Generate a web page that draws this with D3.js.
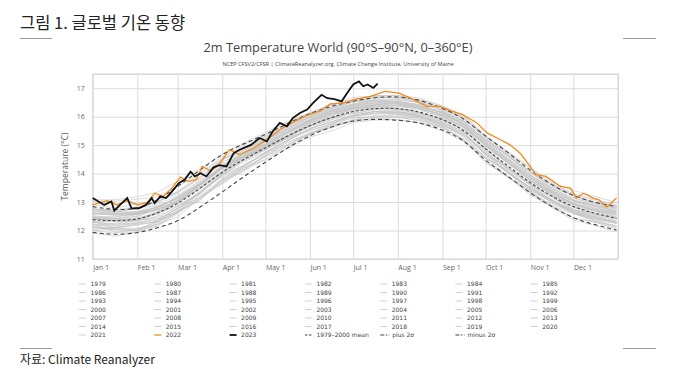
<!DOCTYPE html>
<html>
<head>
<meta charset="utf-8">
<title>2m Temperature World</title>
<script src="https://cdn.jsdelivr.net/npm/d3@7"></script>
<style>
  body { margin: 0; background: #fff; }
  svg { display: block; }
</style>
</head>
<body>
<script>
// x axis: day of year where each month starts
var monthStarts = [0, 31, 59, 90, 120, 151, 181, 212, 243, 273, 304, 334];
var monthLabels = ["Jan 1", "Feb 1", "Mar 1", "Apr 1", "May 1", "Jun 1", "Jul 1", "Aug 1", "Sep 1", "Oct 1", "Nov 1", "Dec 1"];
var yTicks = [11, 12, 13, 14, 15, 16, 17];

// semi-monthly sample days used by the climatology and the gray years
var sampleDays = [0, 15, 31, 45, 59, 74, 90, 105, 120, 135, 151, 166, 181, 196, 212, 227, 243, 258, 273, 288, 304, 319, 334, 349, 364];

var meanValues   = [12.38, 12.33, 12.38, 12.60, 12.93, 13.45, 14.07, 14.50, 14.90, 15.32, 15.70, 15.98, 16.20, 16.30, 16.30, 16.18, 15.92, 15.55, 14.85, 14.30, 13.66, 13.19, 12.82, 12.60, 12.43];
var plus2Values  = [12.84, 12.72, 12.75, 13.05, 13.55, 14.10, 14.70, 15.05, 15.37, 15.75, 16.12, 16.38, 16.55, 16.68, 16.72, 16.60, 16.30, 15.95, 15.30, 14.78, 14.10, 13.60, 13.20, 12.98, 12.84];
var minus2Values = [11.93, 11.85, 11.90, 12.10, 12.30, 12.80, 13.35, 13.90, 14.40, 14.90, 15.35, 15.65, 15.88, 15.92, 15.88, 15.80, 15.55, 15.20, 14.43, 13.95, 13.30, 12.84, 12.42, 12.20, 12.02];

var grayYears = [1979, 1980, 1981, 1982, 1983, 1984, 1985, 1986, 1987, 1988, 1989, 1990, 1991, 1992, 1993, 1994, 1995, 1996, 1997, 1998, 1999, 2000,
                 2001, 2002, 2003, 2004, 2005, 2006, 2007, 2008, 2009, 2010, 2011, 2012, 2013, 2014, 2015, 2016, 2017, 2018, 2019, 2020, 2021];
// departures from the 1979-2000 mean at the sample days, in hundredths of a degree
var grayAnomalies = [
  [-33,-23,-38,-27,-15,-30,-42,-23,-18,-30,-27,-21,-24,-30,-23,-18,-27,-38,-30,-23,-33,-27,-18,-30,-38],
  [-8,-23,-15,-30,-23,-12,-18,-27,-15,-9,-18,-23,-15,-12,-21,-18,-15,-8,-23,-27,-15,-12,-23,-18,-15],
  [-23,-8,0,-18,-27,-15,-8,-23,-15,-18,-12,-8,-15,-21,-18,-12,-23,-15,-8,-18,-23,-15,-8,-12,-18],
  [-15,-38,-45,-33,-23,-42,-30,-38,-27,-33,-30,-38,-33,-27,-30,-23,-33,-38,-27,-18,-23,-15,-8,-12,-3],
  [38,30,42,27,15,23,12,8,0,-8,-12,-15,-18,-12,-15,-23,-18,-27,-30,-23,-15,-18,-23,-15,-12],
  [-23,-30,-38,-45,-33,-27,-38,-30,-42,-33,-30,-27,-33,-38,-30,-33,-27,-38,-45,-42,-33,-38,-45,-42,-48],
  [-45,-53,-42,-38,-45,-33,-42,-38,-30,-38,-33,-30,-38,-33,-42,-38,-30,-33,-38,-42,-30,-33,-38,-30,-27],
  [-33,-23,-30,-38,-27,-33,-23,-30,-27,-23,-30,-27,-23,-18,-23,-27,-18,-15,-12,-8,-3,0,-8,-3,0],
  [0,8,-3,-12,-8,-15,-8,0,-5,-8,0,-3,3,8,0,5,8,12,15,18,12,8,15,12,18],
  [23,27,18,12,8,15,8,3,0,-3,8,0,-8,-12,-8,-15,-12,-8,-18,-23,-15,-12,-18,-23,-27],
  [-38,-42,-33,-30,-27,-23,-30,-18,-23,-15,-18,-23,-15,-18,-12,-15,-23,-18,-15,-23,-27,-18,-15,-23,-18],
  [-8,0,8,-3,8,15,12,3,8,0,-3,0,8,3,0,-5,3,8,0,-8,3,12,8,0,5],
  [8,0,-8,3,-5,-12,0,8,3,-5,0,-3,-8,-5,-12,-15,-18,-23,-15,-12,-18,-23,-15,-12,-18],
  [-15,-23,-18,-27,-30,-38,-33,-42,-38,-45,-42,-48,-40,-42,-40,-40,-42,-42,-45,-38,-42,-33,-38,-30,-33],
  [-38,-27,-33,-42,-30,-38,-27,-33,-30,-23,-27,-33,-30,-27,-33,-30,-27,-23,-30,-38,-27,-33,-23,-27,-30],
  [-23,-30,-38,-23,-15,-18,-12,-23,-18,-15,-12,-18,-15,-12,-15,-18,-8,-12,-18,-8,-3,-8,0,-5,-8],
  [8,15,23,12,8,0,-3,8,3,0,5,8,3,0,-3,-8,-3,0,-8,-12,-8,-15,-12,-18,-15],
  [-27,-23,-18,-27,-15,-18,-12,-8,-15,-18,-12,-15,-18,-12,-15,-8,-12,-18,-15,-23,-18,-12,-15,-18,-12],
  [-8,-12,-3,0,8,3,0,8,5,3,8,12,8,12,15,18,23,27,30,33,38,30,42,38,45],
  [53,45,57,48,42,53,45,38,42,33,38,30,33,27,23,18,23,15,12,8,12,8,0,8,3],
  [-8,-15,-12,-18,-8,-15,-8,0,-5,-8,-3,0,-8,-5,0,-3,-8,0,3,-5,-8,-12,-15,-8,-12],
  [-15,-18,-12,-23,-15,-8,-12,-5,-8,0,-5,-8,-3,0,-5,-8,0,5,-3,-8,-5,0,-8,-3,0],
  [0,5,2,8,5,10,12,8,5,10,8,12,10,8,5,10,12,8,15,12,10,15,12,10,15],
  [10,15,20,25,18,15,20,18,12,15,18,15,12,15,18,12,15,20,18,15,20,18,22,18,20],
  [25,20,18,15,12,10,15,12,18,15,12,15,18,20,15,12,15,18,20,22,18,20,15,18,22],
  [15,10,18,15,12,15,18,12,10,8,12,10,8,12,10,15,12,10,15,12,18,15,12,15,18],
  [22,25,20,18,22,15,18,20,22,18,20,22,18,20,22,25,20,22,25,20,22,18,25,22,20],
  [5,8,12,15,10,12,15,18,12,15,18,20,15,12,15,18,15,20,22,18,20,25,22,28,25],
  [30,35,25,22,20,18,15,20,15,12,15,18,12,10,8,12,10,8,5,10,8,5,10,8,5],
  [-5,-10,-12,-8,0,5,2,8,5,2,0,5,8,5,10,8,5,10,12,8,10,5,8,10,12],
  [10,8,12,15,10,12,15,10,12,15,18,20,22,25,22,20,25,28,22,25,28,30,25,28,30],
  [35,40,45,38,42,35,40,35,30,32,28,25,22,25,20,18,22,15,12,15,18,12,10,15,12],
  [5,0,-2,5,8,5,10,12,8,10,15,12,15,18,15,12,15,18,15,12,10,15,12,8,10],
  [5,8,2,5,10,15,12,18,20,22,25,22,25,28,25,22,25,28,30,25,28,22,20,25,22],
  [20,25,22,20,25,18,22,20,25,22,20,25,22,18,22,25,20,22,25,28,25,22,25,28,25],
  [20,22,25,20,22,18,22,25,28,25,28,30,25,28,30,32,28,30,32,35,30,28,32,35,30],
  [30,25,28,32,30,28,32,30,35,38,32,35,38,40,35,42,45,48,45,50,55,52,58,60,55],
  [70,75,80,75,80,70,62,58,55,50,45,42,40,45,42,38,40,42,38,35,40,38,42,35,38],
  [40,35,38,42,45,40,42,38,35,40,38,35,32,35,38,35,32,38,35,40,38,35,42,38,40],
  [30,28,25,22,25,28,30,32,28,25,30,28,32,30,28,32,30,28,32,35,30,28,32,30,35],
  [35,38,40,42,38,40,45,42,40,45,42,45,48,42,45,48,45,50,48,45,52,48,45,50,48],
  [65,70,72,58,62,55,52,50,48,45,42,45,40,42,45,40,38,42,45,40,42,45,48,45,42],
  [38,32,28,22,25,20,22,25,28,30,32,35,32,38,35,32,35,38,40,35,38,42,40,38,35]
];

var days2022   = [0, 10, 17, 24, 31, 38, 43, 49, 55, 61, 66, 72, 76, 82, 88, 95, 102, 112, 121, 130, 139, 149, 158, 165, 174, 183, 193, 203, 213, 223, 232, 241, 250, 257, 267, 274, 281, 290, 297, 304, 308, 315, 325, 332, 336, 341, 348, 352, 357, 361, 364];
var values2022 = [12.90, 13.05, 12.90, 13.05, 12.90, 12.98, 13.31, 13.20, 13.49, 13.88, 13.73, 13.79, 14.25, 14.10, 14.33, 14.84, 14.67, 14.90, 15.19, 15.54, 15.80, 16.05, 16.20, 16.45, 16.48, 16.62, 16.71, 16.89, 16.83, 16.60, 16.36, 16.36, 16.19, 16.07, 15.78, 15.43, 15.25, 15.01, 14.72, 14.25, 13.96, 13.90, 13.55, 13.49, 13.14, 13.31, 13.14, 13.07, 12.82, 13.00, 13.14];

var days2023   = [0, 4, 8, 13, 15, 19, 24, 27, 32, 37, 41, 43, 47, 51, 55, 60, 64, 68, 71, 75, 79, 84, 88, 93, 98, 102, 110, 116, 121, 125, 130, 135, 139, 144, 149, 153, 159, 163, 168, 173, 176, 181, 185, 188, 191, 195, 198];
var values2023 = [13.14, 13.02, 12.90, 13.02, 12.70, 12.90, 13.14, 12.78, 12.78, 12.90, 13.14, 12.96, 13.20, 13.14, 13.37, 13.67, 13.79, 14.07, 13.90, 14.01, 13.90, 14.22, 14.30, 14.25, 14.72, 14.84, 15.01, 15.25, 15.13, 15.48, 15.78, 15.66, 15.95, 16.13, 16.25, 16.48, 16.77, 16.65, 16.62, 16.54, 16.77, 17.13, 17.24, 17.07, 17.13, 17.01, 17.16];

(function() {
var w = 673, h = 369;
var pL = 92.7, pR = 618, pT = 74, pB = 259;

var svg = d3.select("body").append("svg").attr("width", w).attr("height", h);

var x = d3.scaleLinear().domain([0, 365]).range([pL, pR]);
var y = d3.scaleLinear().domain([11, 17.5]).range([pB, pT]);

// page heading and the short rules around the figure
svg.append("text").attr("x", 20).attr("y", 29)
   .style("font-family", "'Noto Sans CJK KR', sans-serif").style("font-size", "16.5px").style("fill", "#222")
   .text("그림 1. 글로벌 기온 동향");
[[20, 52, 38.5], [623, 656, 38.5], [20, 52, 348.5], [623, 656, 348.5]].forEach(function(r) {
    svg.append("line").attr("x1", r[0]).attr("x2", r[1]).attr("y1", r[2]).attr("y2", r[2])
       .style("stroke", "#999").style("stroke-width", 1);
});
svg.append("text").attr("x", 20).attr("y", 364)
   .style("font-family", "'Noto Sans CJK KR', sans-serif").style("font-size", "12px").style("fill", "#222")
   .text("자료: Climate Reanalyzer");

// chart titles
svg.append("text").attr("x", 338).attr("y", 52).attr("text-anchor", "middle")
   .style("font-family", "'Open Sans', sans-serif").style("font-size", "12.8px").style("fill", "#444")
   .text("2m Temperature World (90°S–90°N, 0–360°E)");
svg.append("text").attr("x", 338).attr("y", 66).attr("text-anchor", "middle")
   .style("font-family", "'Open Sans', sans-serif").style("font-size", "5.6px").style("fill", "#444")
   .text("NCEP CFSV2/CFSR | ClimateReanalyzer.org, Climate Change Institute, University of Maine");

// grid
var gx = svg.append("g").attr("transform", "translate(0," + pT + ")")
    .call(d3.axisBottom(x).tickValues(monthStarts.concat([365])).tickSize(pB - pT).tickFormat(""));
var gy = svg.append("g").attr("transform", "translate(" + pL + ",0)")
    .call(d3.axisRight(y).tickValues(yTicks.concat([17.5])).tickSize(pR - pL).tickFormat(""));
[gx, gy].forEach(function(g) {
    g.select(".domain").remove();
    g.selectAll("line").style("stroke", "#dcdcdc").style("stroke-width", 1);
});
svg.append("rect").attr("x", pL).attr("y", pT).attr("width", pR - pL).attr("height", pB - pT)
   .style("fill", "none").style("stroke", "#d4d4d4").style("stroke-width", 1);

// axis labels
var xa = svg.append("g").attr("transform", "translate(0," + pB + ")")
    .call(d3.axisBottom(x).tickValues(monthStarts).tickSize(0).tickPadding(6).tickFormat(function(d, i) { return monthLabels[i]; }));
xa.select(".domain").remove();
xa.selectAll("text").attr("text-anchor", "start").attr("dx", 0)
  .style("font-family", "'Open Sans', sans-serif").style("font-size", "7px").style("fill", "#666");

var ya = svg.append("g").attr("transform", "translate(" + pL + ",0)")
    .call(d3.axisLeft(y).tickValues(yTicks).tickSize(0).tickPadding(8).tickFormat(d3.format("d")));
ya.select(".domain").remove();
ya.selectAll("text").style("font-family", "'Open Sans', sans-serif").style("font-size", "7px").style("fill", "#666");

svg.append("text").attr("transform", "translate(68," + ((pT + pB) / 2) + ") rotate(-90)")
   .attr("text-anchor", "middle")
   .style("font-family", "'Open Sans', sans-serif").style("font-size", "8.5px").style("fill", "#555")
   .text("Temperature (°C)");

// series
var plot = svg.append("g");
var line = d3.line().x(function(d) { return x(d[0]); }).y(function(d) { return y(d[1]); });
var smooth = d3.line().curve(d3.curveBasis).x(function(d) { return x(d[0]); }).y(function(d) { return y(d[1]); });

grayAnomalies.forEach(function(anoms) {
    var pts = anoms.map(function(a, i) { return [sampleDays[i], meanValues[i] + a / 100]; });
    plot.append("path").attr("d", line(pts))
        .style("fill", "none").style("stroke", "#c2c2c2").style("stroke-width", 0.7).style("opacity", 0.85);
});

function pairs(ds, vs) { return ds.map(function(d, i) { return [d, vs[i]]; }); }

plot.append("path").attr("d", smooth(pairs(sampleDays, plus2Values)))
    .style("fill", "none").style("stroke", "#444").style("stroke-width", 1.1).style("stroke-dasharray", "4,3");
plot.append("path").attr("d", smooth(pairs(sampleDays, minus2Values)))
    .style("fill", "none").style("stroke", "#444").style("stroke-width", 1.1).style("stroke-dasharray", "4,3");
plot.append("path").attr("d", smooth(pairs(sampleDays, meanValues)))
    .style("fill", "none").style("stroke", "#444").style("stroke-width", 1.1).style("stroke-dasharray", "3,2");

plot.append("path").attr("d", line(pairs(days2022, values2022)))
    .style("fill", "none").style("stroke", "#f28a1e").style("stroke-width", 1.3);
plot.append("path").attr("d", line(pairs(days2023, values2023)))
    .style("fill", "none").style("stroke", "#111").style("stroke-width", 1.8);

// legend, 7 columns filled row by row
var legendItems = grayYears.map(function(yr) { return { label: String(yr), kind: "gray" }; })
    .concat([{ label: "2022", kind: "y2022" }, { label: "2023", kind: "y2023" },
             { label: "1979–2000 mean", kind: "mean" }, { label: "plus 2σ", kind: "sigma" }, { label: "minus 2σ", kind: "sigma" }]);

var lg = svg.append("g");
legendItems.forEach(function(item, i) {
    var col = i % 7, row = Math.floor(i / 7);
    var lx = 79 + col * 75.3, ly = 284 + row * 8.5;
    var s = lg.append("line").attr("x1", lx).attr("x2", lx + 7).attr("y1", ly).attr("y2", ly).style("stroke-width", 1);
    if (item.kind === "gray") s.style("stroke", "#c4c4c4").style("stroke-width", 0.8);
    if (item.kind === "y2022") s.style("stroke", "#f28a1e").style("stroke-width", 1.3);
    if (item.kind === "y2023") s.style("stroke", "#111").style("stroke-width", 1.8);
    if (item.kind === "mean") s.style("stroke", "#444").style("stroke-dasharray", "2.5,1.5").style("stroke-width", 1.1);
    if (item.kind === "sigma") s.attr("x2", lx + 9).style("stroke", "#444").style("stroke-dasharray", "4,1.5,1.5,1.5").style("stroke-width", 1.1);
    lg.append("text").attr("x", lx + (item.kind === "sigma" ? 12 : 11.5)).attr("y", ly + 2.1)
      .style("font-family", "'DejaVu Sans', sans-serif").style("font-size", "6px").style("fill", "#444")
      .text(item.label);
});
})();
</script>
</body>
</html>
